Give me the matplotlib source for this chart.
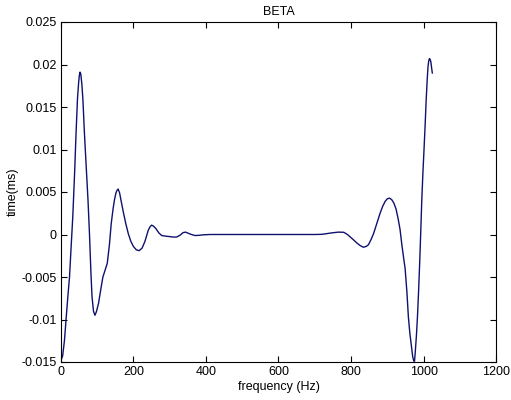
import matplotlib
matplotlib.use("Agg")
import matplotlib.pyplot as plt
from matplotlib.ticker import FuncFormatter, MultipleLocator

# values
freq = [0, 5, 10, 15, 20, 24, 28, 33, 38, 42, 46, 49, 51, 53, 55, 58, 61, 65, 70, 75,
        79, 83, 86, 90, 94, 98, 104, 110, 116, 122, 128, 134, 139, 144, 148, 152, 155,
        158, 162, 166, 172, 179, 186, 193, 200, 208, 216, 224, 232, 241, 246, 250, 255,
        262, 270, 278, 290, 301, 310, 319, 328, 337, 344, 351, 360, 370, 380, 393, 411,
        500, 600, 700, 720, 745, 765, 780, 790, 797, 806, 816, 825, 834, 842, 848, 855,
        862, 871, 880, 887, 894, 900, 906, 912, 918, 924, 930, 935, 940, 945, 949, 954,
        958, 962, 966, 970, 973, 975, 977, 980, 983, 986, 989, 992, 995, 998, 1001,
        1004, 1007, 1010, 1012, 1014, 1016, 1018, 1020, 1022, 1024]
beta = [-0.0148, -0.0143, -0.0125, -0.0097, -0.0070, -0.0050, -0.0018, 0.0021, 0.0072,
        0.0119, 0.0160, 0.0178, 0.0187, 0.0191, 0.0189, 0.0177, 0.0158, 0.0120, 0.0080,
        0.0040, 0.0001, -0.0045, -0.0073, -0.0090, -0.0095, -0.0091, -0.0081, -0.0065,
        -0.0050, -0.0042, -0.0034, -0.0012, 0.0013, 0.0030, 0.0041, 0.0049, 0.0052,
        0.00535, 0.0049, 0.0040, 0.0027, 0.0013, 0.0001, -0.0008, -0.0014, -0.0018,
        -0.0019, -0.0016, -0.0008, 0.0005, 0.0009, 0.0011, 0.0010, 0.0007, 0.0002,
        -0.00012, -0.0002, -0.00025, -0.0003, -0.0003, -0.0001, 0.00022, 0.00028,
        0.00015, 0.0, -0.00012, -0.0001, -0.00004, 0.0,
        0.0, 0.0, 0.0, 0.00002, 0.00018, 0.00028, 0.00026, 0.0, -0.00026, -0.0006,
        -0.0010, -0.0013, -0.0015, -0.0014, -0.0012, -0.0006, 0.0001, 0.0013, 0.0025,
        0.0033, 0.0039, 0.0042, 0.00428, 0.0041, 0.0037, 0.0030, 0.0018, 0.0006,
        -0.0012, -0.0028, -0.0040, -0.0068, -0.0097, -0.0116, -0.0130, -0.0144,
        -0.0149, -0.0149, -0.0138, -0.0120, -0.0097, -0.0068, -0.0035, 0.0002, 0.0041,
        0.0072, 0.0099, 0.0127, 0.0158, 0.0183, 0.0197, 0.0204, 0.0207, 0.0206, 0.0203,
        0.0196, 0.0190]

plt.rcParams["font.family"] = ["Liberation Sans", "DejaVu Sans"]
plt.rcParams["font.size"] = 9

fig = plt.figure(figsize=(5.11, 4.0), dpi=100)
ax = fig.add_axes([0.119, 0.095, 0.852, 0.85])

ax.plot(freq, beta, color="#10106e", linewidth=1.0)

ax.set_xlim(0, 1200)
ax.set_ylim(-0.015, 0.025)
ax.xaxis.set_major_locator(MultipleLocator(200))
ax.yaxis.set_major_locator(MultipleLocator(0.005))
ax.yaxis.set_major_formatter(FuncFormatter(lambda v, p: "%g" % round(v, 4)))
ax.tick_params(direction="in", length=4, width=0.8, top=True, right=True, pad=3)
for s in ax.spines.values():
  s.set_linewidth(0.8)

ax.set_title("BETA", fontsize=9, pad=5)
ax.set_xlabel("frequency (Hz)", labelpad=2)
ax.set_ylabel("time(ms)", labelpad=2)

fig.savefig("out.png", dpi=100, facecolor="white")
